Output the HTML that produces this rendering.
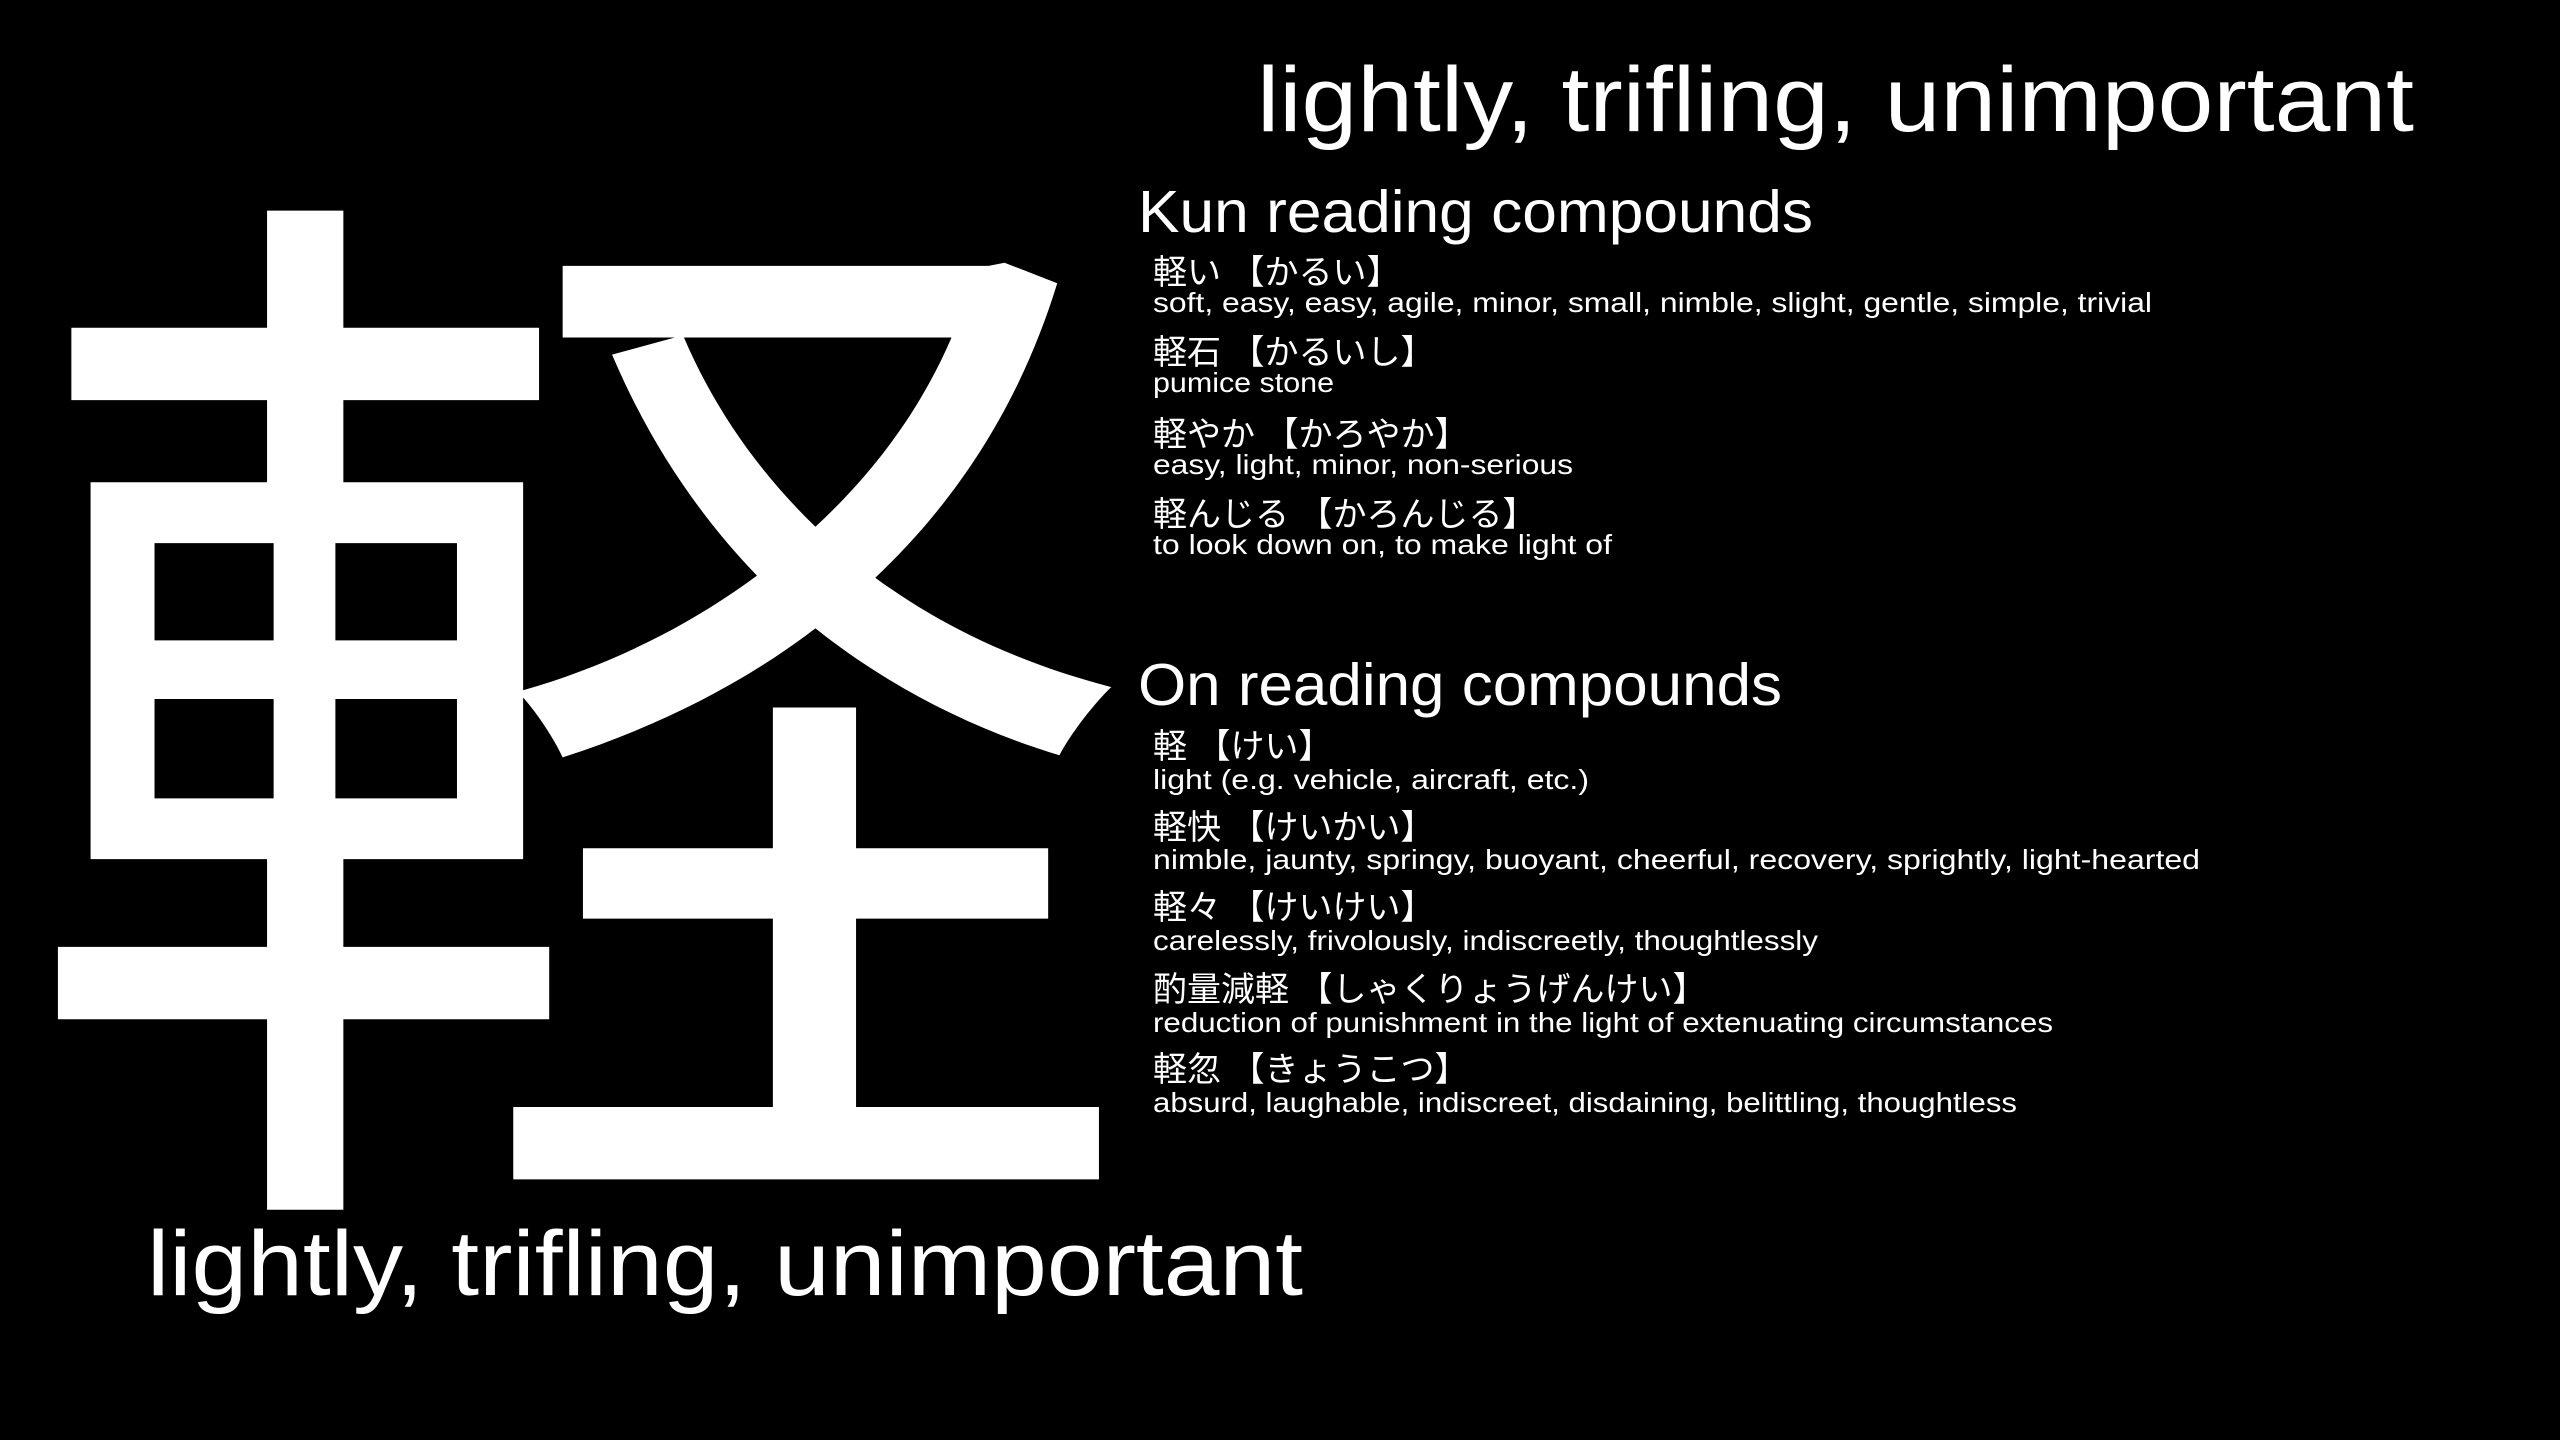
<!DOCTYPE html>
<html><head><meta charset="utf-8"><style>
html,body{margin:0;padding:0;background:#000;width:2560px;height:1440px;overflow:hidden}
svg text{fill:#fff;font-family:"Liberation Sans","Noto Sans CJK JP",sans-serif}
</style></head><body>
<svg width="2560" height="1440" viewBox="0 0 2560 1440">
<rect width="2560" height="1440" fill="#000"/>
<text x="0" y="0" font-size="1100" transform="translate(14,1121) scale(1.022,0.984)" style="font-family:'Noto Sans CJK JP',sans-serif">軽</text>
<text x="1257" y="131" font-size="92" textLength="1157" lengthAdjust="spacingAndGlyphs">lightly, trifling, unimportant</text>
<text x="147" y="1295" font-size="92" textLength="1156" lengthAdjust="spacingAndGlyphs">lightly, trifling, unimportant</text>

<text x="1138" y="232" font-size="59" textLength="675" lengthAdjust="spacingAndGlyphs">Kun reading compounds</text>
<g>
<text x="1153" y="284" font-size="34">軽い 【かるい】</text>
<text x="1153" y="312" font-size="28" textLength="999" lengthAdjust="spacingAndGlyphs">soft, easy, easy, agile, minor, small, nimble, slight, gentle, simple, trivial</text>
<text x="1153" y="364" font-size="34">軽石 【かるいし】</text>
<text x="1153" y="392" font-size="28" textLength="181" lengthAdjust="spacingAndGlyphs">pumice stone</text>
<text x="1153" y="446" font-size="34">軽やか 【かろやか】</text>
<text x="1153" y="474" font-size="28" textLength="420" lengthAdjust="spacingAndGlyphs">easy, light, minor, non-serious</text>
<text x="1153" y="526" font-size="34">軽んじる 【かろんじる】</text>
<text x="1153" y="554" font-size="28" textLength="459" lengthAdjust="spacingAndGlyphs">to look down on, to make light of</text>
</g>

<text x="1138" y="705" font-size="59" textLength="644" lengthAdjust="spacingAndGlyphs">On reading compounds</text>
<g>
<text x="1153" y="758" font-size="34">軽 【けい】</text>
<text x="1153" y="789" font-size="28" textLength="436" lengthAdjust="spacingAndGlyphs">light (e.g. vehicle, aircraft, etc.)</text>
<text x="1153" y="839" font-size="34">軽快 【けいかい】</text>
<text x="1153" y="869" font-size="28" textLength="1047" lengthAdjust="spacingAndGlyphs">nimble, jaunty, springy, buoyant, cheerful, recovery, sprightly, light-hearted</text>
<text x="1153" y="919" font-size="34">軽々 【けいけい】</text>
<text x="1153" y="950" font-size="28" textLength="665" lengthAdjust="spacingAndGlyphs">carelessly, frivolously, indiscreetly, thoughtlessly</text>
<text x="1153" y="1001" font-size="34">酌量減軽 【しゃくりょうげんけい】</text>
<text x="1153" y="1032" font-size="28" textLength="900" lengthAdjust="spacingAndGlyphs">reduction of punishment in the light of extenuating circumstances</text>
<text x="1153" y="1081" font-size="34">軽忽 【きょうこつ】</text>
<text x="1153" y="1112" font-size="28" textLength="864" lengthAdjust="spacingAndGlyphs">absurd, laughable, indiscreet, disdaining, belittling, thoughtless</text>
</g>
</svg>
</body></html>
